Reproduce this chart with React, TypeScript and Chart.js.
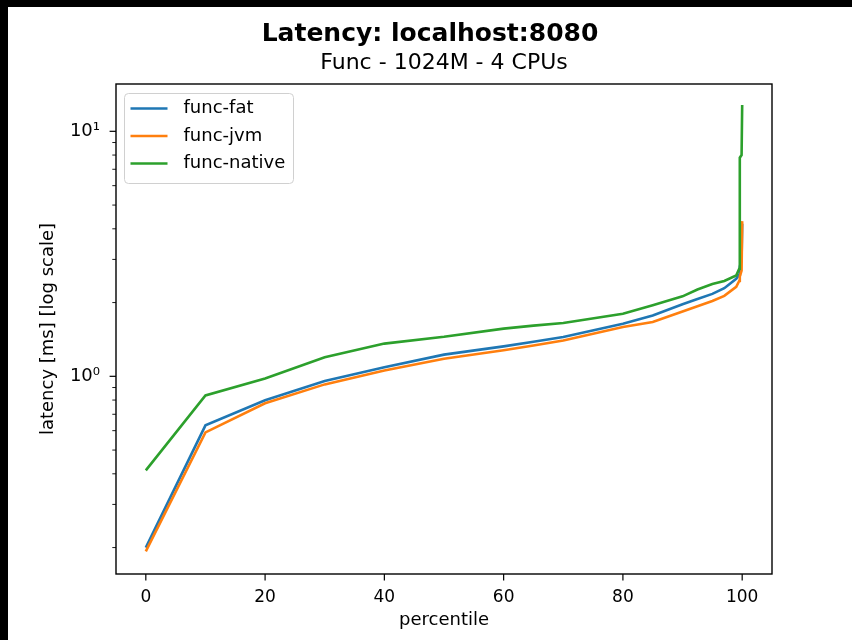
import React, { useEffect, useRef } from 'react';
import { Chart, registerables } from 'chart.js';

Chart.register(...registerables);

// ---- data ----
const percentiles = [0, 10, 20, 30, 40, 50, 60, 65, 70, 80, 85, 90, 92.5, 95, 97, 99, 99.5, 99.6, 99.9, 100];
const fatLatency = [0.2, 0.631, 0.798, 0.957, 1.09, 1.226, 1.325, 1.385, 1.447, 1.64, 1.77, 1.97, 2.07, 2.17, 2.29, 2.5, 2.6, 2.8, 3.0, 4.2];
const jvmLatency = [0.193, 0.59, 0.776, 0.927, 1.057, 1.18, 1.277, 1.335, 1.4, 1.59, 1.665, 1.84, 1.93, 2.03, 2.13, 2.32, 2.45, 2.55, 2.7, 4.3];
const nativeLatency = [0.413, 0.836, 0.98, 1.196, 1.36, 1.45, 1.566, 1.61, 1.65, 1.8, 1.95, 2.12, 2.26, 2.38, 2.45, 2.58, 2.75, 7.8, 8.0, 12.8];

const seriesLabels = ['func-fat', 'func-jvm', 'func-native'];
const seriesColors = ['#1f77b4', '#ff7f0e', '#2ca02c'];

const xTicks = [0, 20, 40, 60, 80, 100];
const yMajorTicks = [1, 10];
const yMinorTicks = [0.2, 0.3, 0.4, 0.5, 0.6, 0.7, 0.8, 0.9, 2, 3, 4, 5, 6, 7, 8, 9];
const yTickLabels: Record<number, string> = { 1: '10⁰', 10: '10¹' };

const FONT = 'DejaVu Sans';

const mplPlugin = {
  id: 'mplDecor',
  afterDraw(chart: any) {
    const { ctx, chartArea: a, scales } = chart;
    ctx.save();
    ctx.strokeStyle = '#000';
    // y ticks
    const ys = scales.y;
    ys.ticks.forEach((t: any) => {
      const major = yMajorTicks.includes(t.value);
      const py = ys.getPixelForValue(t.value);
      ctx.lineWidth = major ? 1.2 : 0.9;
      ctx.beginPath();
      ctx.moveTo(a.left, py);
      ctx.lineTo(a.left - (major ? 6.4 : 3.7), py);
      ctx.stroke();
    });
    const xs = scales.x;
    xs.ticks.forEach((t: any) => {
      const px = xs.getPixelForValue(t.value);
      ctx.lineWidth = 1.2;
      ctx.beginPath();
      ctx.moveTo(px, a.bottom);
      ctx.lineTo(px, a.bottom + 6.4);
      ctx.stroke();
    });
    // frame
    ctx.lineWidth = 1.4;
    ctx.strokeRect(a.left, a.top, a.right - a.left, a.bottom - a.top);

    // legend (upper left)
    const ds = chart.data.datasets;
    const bx = a.left + 8.5;
    const by = a.top + 9.5;
    const bw = 169;
    const bh = 90;
    const r = 4;
    ctx.beginPath();
    ctx.moveTo(bx + r, by);
    ctx.lineTo(bx + bw - r, by);
    ctx.arcTo(bx + bw, by, bx + bw, by + r, r);
    ctx.lineTo(bx + bw, by + bh - r);
    ctx.arcTo(bx + bw, by + bh, bx + bw - r, by + bh, r);
    ctx.lineTo(bx + r, by + bh);
    ctx.arcTo(bx, by + bh, bx, by + bh - r, r);
    ctx.lineTo(bx, by + r);
    ctx.arcTo(bx, by, bx + r, by, r);
    ctx.closePath();
    ctx.fillStyle = 'rgba(255,255,255,0.8)';
    ctx.fill();
    ctx.strokeStyle = '#d0d0d0';
    ctx.lineWidth = 1;
    ctx.stroke();
    ctx.font = `18px "${FONT}"`;
    ctx.textBaseline = 'middle';
    ctx.textAlign = 'left';
    ds.forEach((d: any, i: number) => {
      const ly = by + 15 + i * 27.5;
      ctx.strokeStyle = d.borderColor;
      ctx.lineWidth = 2.6;
      ctx.beginPath();
      ctx.moveTo(bx + 6, ly);
      ctx.lineTo(bx + 43, ly);
      ctx.stroke();
      ctx.fillStyle = '#000';
      ctx.fillText(d.label, bx + 59, ly);
    });
    ctx.restore();
  },
};

export default function App() {
  const ref = useRef<HTMLCanvasElement | null>(null);
  useEffect(() => {
    document.documentElement.style.overflow = 'hidden';
    document.body.style.overflow = 'hidden';
    const canvas = ref.current!;
    const series = [fatLatency, jvmLatency, nativeLatency];
    const chart = new Chart(canvas, {
      type: 'line',
      data: {
        datasets: series.map((vals, i) => ({
          label: seriesLabels[i],
          data: percentiles.map((p, j) => ({ x: p, y: vals[j] })),
          borderColor: seriesColors[i],
          backgroundColor: seriesColors[i],
          borderWidth: 2.6,
          pointRadius: 0,
          tension: 0,
          fill: false,
          order: 3 - i,
        })),
      },
      options: {
        animation: false,
        responsive: false,
        devicePixelRatio: 1,
        layout: { padding: 0 },
        font: { family: FONT },
        plugins: {
          legend: { display: false },
          tooltip: { enabled: false },
          title: {
            display: true,
            text: 'Latency: localhost:8080',
            color: '#000',
            font: { family: FONT, size: 25, weight: 'bold', lineHeight: 1.2 },
            padding: { top: 11, bottom: 0 },
          },
          subtitle: {
            display: true,
            fullSize: false,
            text: 'Func - 1024M - 4 CPUs',
            color: '#000',
            font: { family: FONT, size: 22, lineHeight: 1.2 },
            padding: { top: 0.8, bottom: 7.8 },
          },
        },
        scales: {
          x: {
            type: 'linear',
            min: -5,
            max: 105,
            grid: { display: false },
            border: { display: false },
            afterBuildTicks: (s: any) => {
              s.ticks = xTicks.map((v) => ({ value: v }));
            },
            afterFit: (s: any) => {
              s.height = 66;
            },
            ticks: {
              padding: 5,
              color: '#000',
              font: { family: FONT, size: 17 },
              maxRotation: 0,
              callback: (v: any) => String(v),
            },
            title: {
              display: true,
              text: 'percentile',
              color: '#000',
              font: { family: FONT, size: 18, lineHeight: 1.2 },
              padding: { top: 0, bottom: 8.5 },
            },
          },
          y: {
            type: 'logarithmic',
            min: 0.156,
            max: 15.6,
            grid: { display: false },
            border: { display: false },
            afterBuildTicks: (s: any) => {
              s.ticks = [...yMinorTicks, ...yMajorTicks]
                .sort((a, b) => a - b)
                .map((v) => ({ value: v, major: yMajorTicks.includes(v) }));
            },
            afterFit: (s: any) => {
              s.width = 108;
            },
            ticks: {
              padding: 8,
              color: '#000',
              font: { family: FONT, size: 18 },
              autoSkip: false,
              callback: (v: any) => yTickLabels[v as number] ?? '',
            },
            title: {
              display: true,
              text: 'latency [ms] [log scale]',
              color: '#000',
              font: { family: FONT, size: 18, lineHeight: 1.2 },
              padding: { top: 29.2, bottom: 0 },
            },
          },
          yRight: {
            type: 'linear',
            position: 'right',
            display: false,
            afterFit: (s: any) => {
              s.width = 80;
            },
          },
        },
      },
      plugins: [mplPlugin],
    } as any);
    return () => chart.destroy();
  }, []);
  return (
    <>
      <div style={{ position: 'fixed', left: 0, top: 0, width: '100%', height: 7, background: '#000' }} />
      <div style={{ position: 'fixed', left: 0, top: 0, width: 8, height: '100%', background: '#000' }} />
      <canvas
        ref={ref}
        width={844}
        height={632}
        style={{ display: 'block', background: '#fff', width: 844, height: 632 }}
      />
    </>
  );
}
